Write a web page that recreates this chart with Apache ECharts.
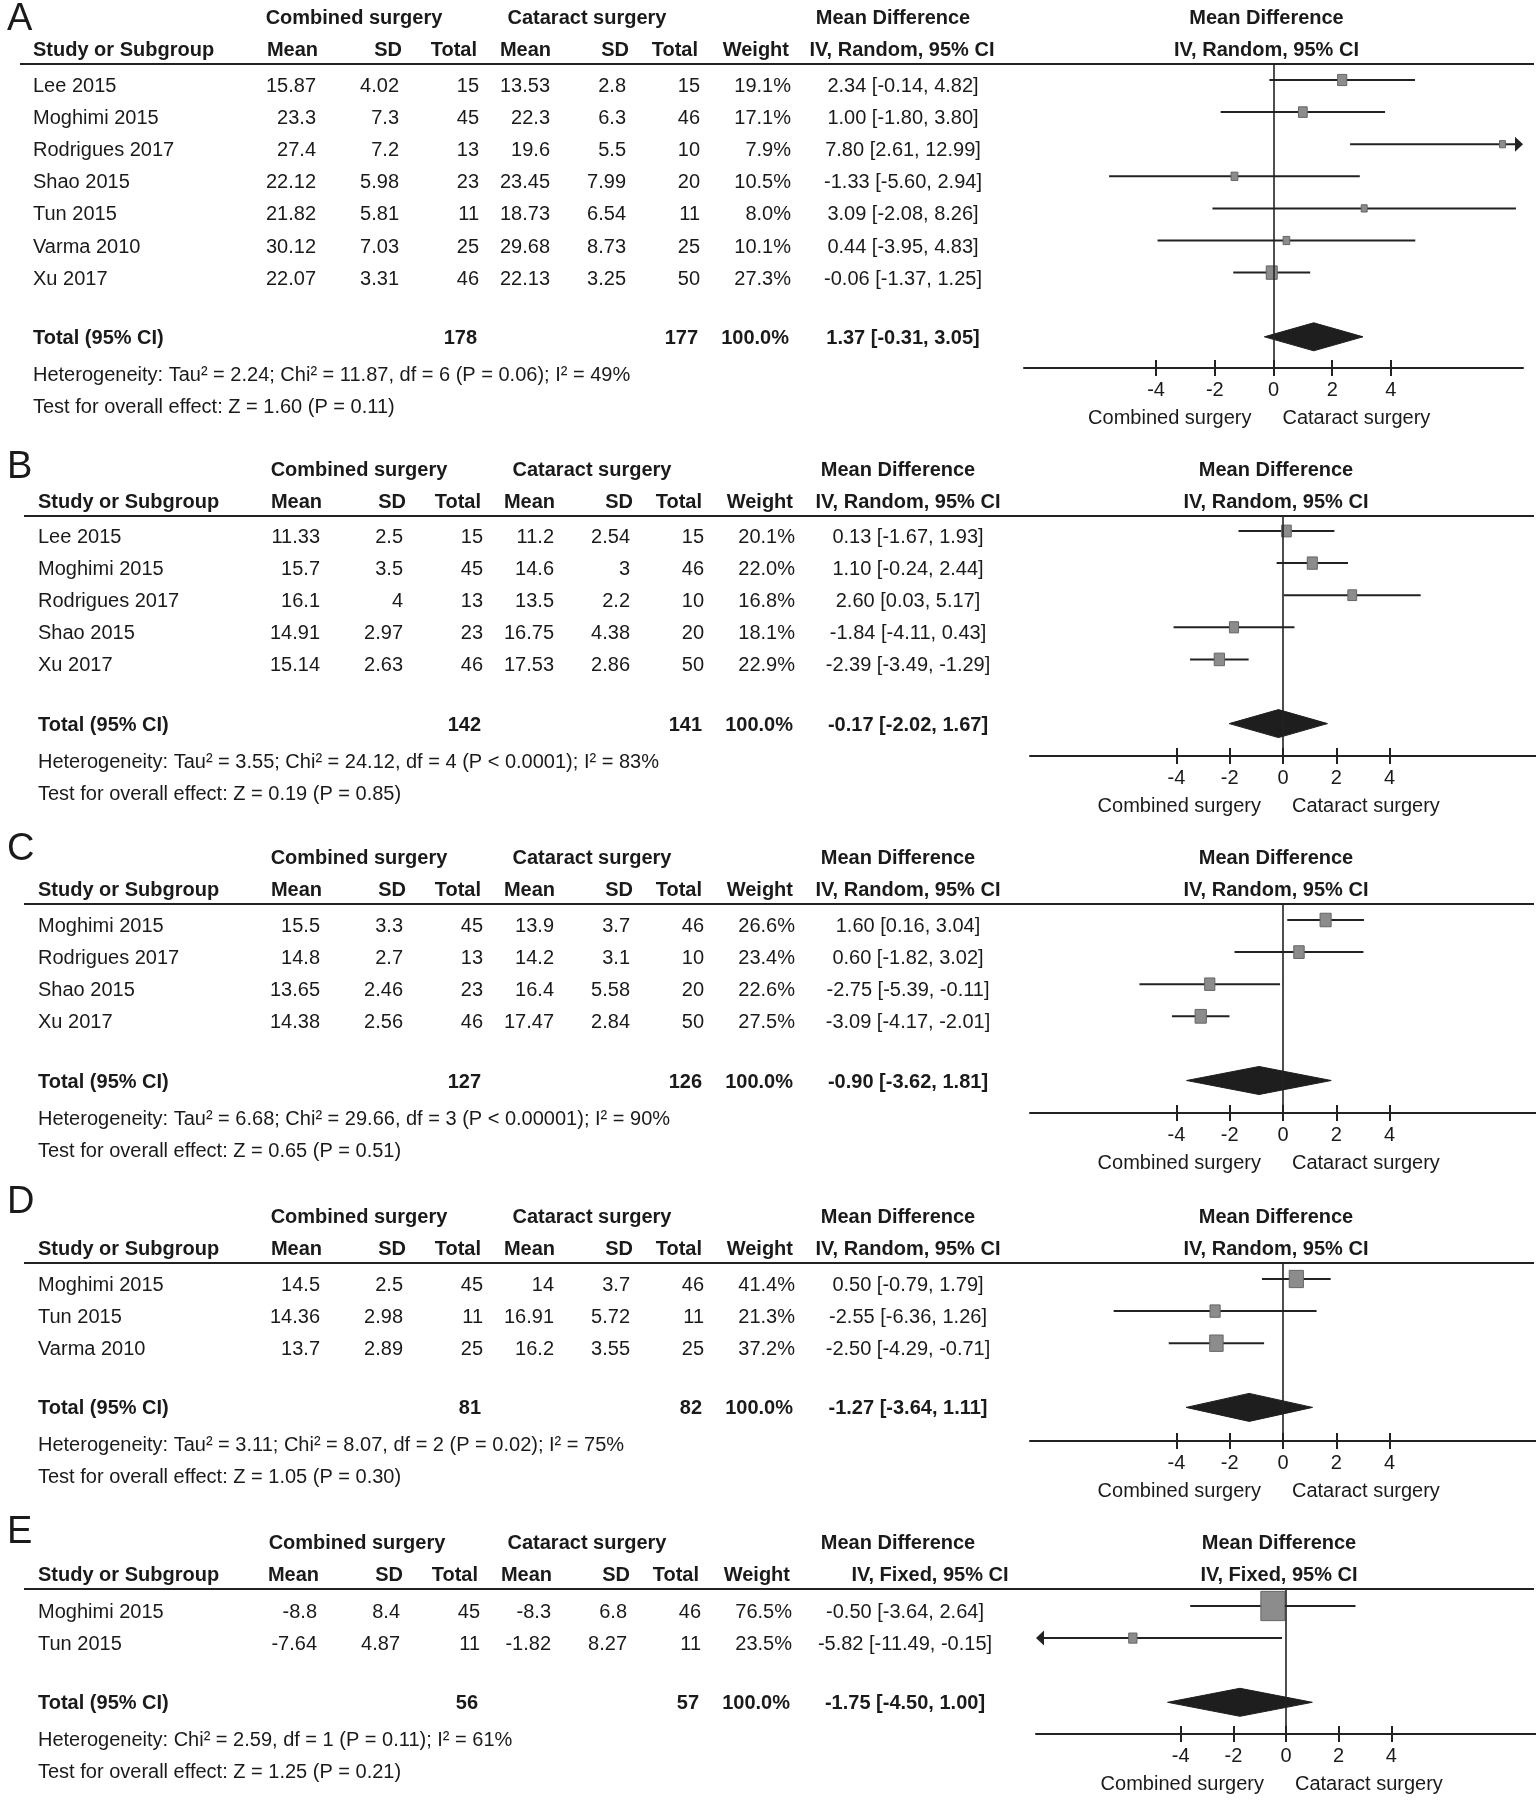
<!DOCTYPE html>
<html><head><meta charset="utf-8">
<script src="https://cdn.jsdelivr.net/npm/echarts@6/dist/echarts.min.js"></script>
<style>html,body{margin:0;padding:0;background:#fff}#c{width:1536px;height:1802px}</style>
</head><body><div id="c"></div>
<script>
// ---------------- DATA ----------------
const colHeaders = ['Study or Subgroup','Mean','SD','Total','Mean','SD','Total','Weight'];
const groupHeaders = ['Combined surgery','Cataract surgery'];
const directionLabels = ['Combined surgery','Cataract surgery'];
const tickLabels = [-4,-2,0,2,4];

// Panel A
const A_study = ['Lee 2015','Moghimi 2015','Rodrigues 2017','Shao 2015','Tun 2015','Varma 2010','Xu 2017'];
const A_combMean = [15.87,23.3,27.4,22.12,21.82,30.12,22.07];
const A_combSD = [4.02,7.3,7.2,5.98,5.81,7.03,3.31];
const A_combN = [15,45,13,23,11,25,46];
const A_catMean = [13.53,22.3,19.6,23.45,18.73,29.68,22.13];
const A_catSD = [2.8,6.3,5.5,7.99,6.54,8.73,3.25];
const A_catN = [15,46,10,20,11,25,50];
const A_weight = [19.1,17.1,7.9,10.5,8.0,10.1,27.3];
const A_md = [2.34,1.00,7.80,-1.33,3.09,0.44,-0.06];
const A_lo = [-0.14,-1.80,2.61,-5.60,-2.08,-3.95,-1.37];
const A_hi = [4.82,3.80,12.99,2.94,8.26,4.83,1.25];
const A_total = [178,177,1.37,-0.31,3.05];
const A_het = 'Heterogeneity: Tau\u00b2 = 2.24; Chi\u00b2 = 11.87, df = 6 (P = 0.06); I\u00b2 = 49%';
const A_test = 'Test for overall effect: Z = 1.60 (P = 0.11)';

// Panel B
const B_study = ['Lee 2015','Moghimi 2015','Rodrigues 2017','Shao 2015','Xu 2017'];
const B_combMean = [11.33,15.7,16.1,14.91,15.14];
const B_combSD = [2.5,3.5,4,2.97,2.63];
const B_combN = [15,45,13,23,46];
const B_catMean = [11.2,14.6,13.5,16.75,17.53];
const B_catSD = [2.54,3,2.2,4.38,2.86];
const B_catN = [15,46,10,20,50];
const B_weight = [20.1,22.0,16.8,18.1,22.9];
const B_md = [0.13,1.10,2.60,-1.84,-2.39];
const B_lo = [-1.67,-0.24,0.03,-4.11,-3.49];
const B_hi = [1.93,2.44,5.17,0.43,-1.29];
const B_total = [142,141,-0.17,-2.02,1.67];
const B_het = 'Heterogeneity: Tau\u00b2 = 3.55; Chi\u00b2 = 24.12, df = 4 (P < 0.0001); I\u00b2 = 83%';
const B_test = 'Test for overall effect: Z = 0.19 (P = 0.85)';

// Panel C
const C_study = ['Moghimi 2015','Rodrigues 2017','Shao 2015','Xu 2017'];
const C_combMean = [15.5,14.8,13.65,14.38];
const C_combSD = [3.3,2.7,2.46,2.56];
const C_combN = [45,13,23,46];
const C_catMean = [13.9,14.2,16.4,17.47];
const C_catSD = [3.7,3.1,5.58,2.84];
const C_catN = [46,10,20,50];
const C_weight = [26.6,23.4,22.6,27.5];
const C_md = [1.60,0.60,-2.75,-3.09];
const C_lo = [0.16,-1.82,-5.39,-4.17];
const C_hi = [3.04,3.02,-0.11,-2.01];
const C_total = [127,126,-0.90,-3.62,1.81];
const C_het = 'Heterogeneity: Tau\u00b2 = 6.68; Chi\u00b2 = 29.66, df = 3 (P < 0.00001); I\u00b2 = 90%';
const C_test = 'Test for overall effect: Z = 0.65 (P = 0.51)';

// Panel D
const D_study = ['Moghimi 2015','Tun 2015','Varma 2010'];
const D_combMean = [14.5,14.36,13.7];
const D_combSD = [2.5,2.98,2.89];
const D_combN = [45,11,25];
const D_catMean = [14,16.91,16.2];
const D_catSD = [3.7,5.72,3.55];
const D_catN = [46,11,25];
const D_weight = [41.4,21.3,37.2];
const D_md = [0.50,-2.55,-2.50];
const D_lo = [-0.79,-6.36,-4.29];
const D_hi = [1.79,1.26,-0.71];
const D_total = [81,82,-1.27,-3.64,1.11];
const D_het = 'Heterogeneity: Tau\u00b2 = 3.11; Chi\u00b2 = 8.07, df = 2 (P = 0.02); I\u00b2 = 75%';
const D_test = 'Test for overall effect: Z = 1.05 (P = 0.30)';

// Panel E
const E_study = ['Moghimi 2015','Tun 2015'];
const E_combMean = [-8.8,-7.64];
const E_combSD = [8.4,4.87];
const E_combN = [45,11];
const E_catMean = [-8.3,-1.82];
const E_catSD = [6.8,8.27];
const E_catN = [46,11];
const E_weight = [76.5,23.5];
const E_md = [-0.50,-5.82];
const E_lo = [-3.64,-11.49];
const E_hi = [2.64,-0.15];
const E_total = [56,57,-1.75,-4.50,1.00];
const E_het = 'Heterogeneity: Chi\u00b2 = 2.59, df = 1 (P = 0.11); I\u00b2 = 61%';
const E_test = 'Test for overall effect: Z = 1.25 (P = 0.21)';

const panels = [
  {letter:'A', study:A_study, cm:A_combMean, cs:A_combSD, cn:A_combN, tm:A_catMean, ts:A_catSD, tn:A_catN, w:A_weight, md:A_md, lo:A_lo, hi:A_hi, total:A_total, het:A_het, test:A_test, method:'IV, Random, 95% CI'},
  {letter:'B', study:B_study, cm:B_combMean, cs:B_combSD, cn:B_combN, tm:B_catMean, ts:B_catSD, tn:B_catN, w:B_weight, md:B_md, lo:B_lo, hi:B_hi, total:B_total, het:B_het, test:B_test, method:'IV, Random, 95% CI'},
  {letter:'C', study:C_study, cm:C_combMean, cs:C_combSD, cn:C_combN, tm:C_catMean, ts:C_catSD, tn:C_catN, w:C_weight, md:C_md, lo:C_lo, hi:C_hi, total:C_total, het:C_het, test:C_test, method:'IV, Random, 95% CI'},
  {letter:'D', study:D_study, cm:D_combMean, cs:D_combSD, cn:D_combN, tm:D_catMean, ts:D_catSD, tn:D_catN, w:D_weight, md:D_md, lo:D_lo, hi:D_hi, total:D_total, het:D_het, test:D_test, method:'IV, Random, 95% CI'},
  {letter:'E', study:E_study, cm:E_combMean, cs:E_combSD, cn:E_combN, tm:E_catMean, ts:E_catSD, tn:E_catN, w:E_weight, md:E_md, lo:E_lo, hi:E_hi, total:E_total, het:E_het, test:E_test, method:'IV, Fixed, 95% CI'}
];

// ---------------- LAYOUT ----------------
const ROW = 32.1;
const layouts = [
  {letterY:20,  top:64,   axisY:368,  row0:80,   xmin:-8.5, xmax:8.5, left:1024, width:499, dx:0, lineLeft:20, studyX:33, sqC:2.1, sqP:0.5, mdHeadX:893, methodX:902, ciX:903, grpX:[354,587]},
  {letterY:468, top:516,  axisY:756,  row0:531,  xmin:-9.5, xmax:9.5, left:1030, width:506, dx:4, lineLeft:24, studyX:38, sqC:2.15, sqP:0.5, mdHeadX:898, methodX:908, ciX:908, grpX:[359,592]},
  {letterY:850, top:904,  axisY:1113, row0:920,  xmin:-9.5, xmax:9.5, left:1030, width:506, dx:4, lineLeft:24, studyX:38, sqC:2.15, sqP:0.5, mdHeadX:898, methodX:908, ciX:908, grpX:[359,592]},
  {letterY:1203,top:1263, axisY:1441, row0:1279, xmin:-9.5, xmax:9.5, left:1030, width:506, dx:4, lineLeft:24, studyX:38, sqC:2.2, sqP:0.5, mdHeadX:898, methodX:908, ciX:908, grpX:[359,592]},
  {letterY:1533,top:1589, axisY:1734, row0:1606, xmin:-9.5, xmax:9.5, left:1036, width:500, dx:1, lineLeft:24, studyX:38, sqC:0.484, sqP:0.9, mdHeadX:898, methodX:930, ciX:905, grpX:[357,587]}
];
const headRight = [318,402,477,551,629,698,789];
const valRight  = [316,399,479,550,626,700,791];
const FONT = '"Liberation Sans", Arial, Helvetica, sans-serif';
const INK = '#1a1a1a';

const chart = echarts.init(document.getElementById('c'), null, {renderer:'canvas'});

function studyRender(L){
  return function(params, api){
    const md = api.value(0), lo = api.value(1), hi = api.value(2), w = api.value(3), r = api.value(4);
    const pL = api.coord([Math.max(lo, L.xmin), r]);
    const pH = api.coord([Math.min(hi, L.xmax), r]);
    const pC = api.coord([md, r]);
    const y = pC[1];
    let x0 = pL[0], x1 = pH[0];
    const arrL = lo < L.xmin, arrR = hi > L.xmax;
    const kids = [];
    if (arrR) x1 -= 8;
    if (arrL) x0 += 8;
    kids.push({type:'line', shape:{x1:x0, y1:y, x2:x1, y2:y}, style:{stroke:'#222', lineWidth:2}});
    if (arrR) kids.push({type:'polygon', shape:{points:[[x1,y-7.5],[pH[0],y],[x1,y+7.5]]}, style:{fill:'#222'}});
    if (arrL) kids.push({type:'polygon', shape:{points:[[x0,y-7.5],[pL[0],y],[x0,y+7.5]]}, style:{fill:'#222'}});
    const sw = L.sqC * Math.pow(w, L.sqP), sh = sw * 1.22;
    kids.push({type:'rect', shape:{x:pC[0]-sw/2, y:y-sh/2, width:sw, height:sh}, style:{fill:'#8c8c8c', stroke:'#666', lineWidth:1}});
    return {type:'group', children:kids};
  };
}
function diamondRender(params, api){
  const md = api.value(0), lo = api.value(1), hi = api.value(2), r = api.value(3);
  const a = api.coord([lo, r]), m = api.coord([md, r]), b = api.coord([hi, r]);
  const y = m[1];
  return {type:'polygon', shape:{points:[[a[0],y],[m[0],y-14],[b[0],y],[m[0],y+14]]}, style:{fill:'#1e1e1e', stroke:'#1e1e1e', lineWidth:1}};
}

const grids = [], xAxes = [], yAxes = [], series = [];
panels.forEach((P, g) => {
  const L = layouts[g];
  const n = P.study.length;
  grids.push({left:L.left, top:L.top, width:L.width, height:L.axisY - L.top, containLabel:false});
  const axBase = {gridIndex:g, type:'value', min:L.xmin, max:L.xmax, position:'bottom', splitLine:{show:false}};
  xAxes.push(Object.assign({}, axBase, {
    axisLine:{show:true, onZero:false, lineStyle:{color:'#222', width:2}},
    axisTick:{show:true, customValues:tickLabels, length:8, inside:false, lineStyle:{color:'#222', width:2}},
    axisLabel:{show:true, customValues:tickLabels, margin:12, fontSize:20, fontFamily:FONT, color:INK}
  }));
  xAxes.push(Object.assign({}, axBase, {
    axisLine:{show:false, onZero:false},
    axisTick:{show:true, customValues:tickLabels, length:8, inside:true, lineStyle:{color:'#222', width:2}},
    axisLabel:{show:false}
  }));
  yAxes.push({gridIndex:g, type:'value', inverse:true, show:false,
    min:(L.top - L.row0)/ROW, max:(L.axisY - L.row0)/ROW});
  const rows = P.study.map((s, i) => [P.md[i], P.lo[i], P.hi[i], P.w[i], i]);
  series.push({type:'custom', xAxisIndex:2*g, yAxisIndex:g, renderItem:studyRender(L), data:rows, silent:true,
    encode:{x:[0,1,2], y:4}, clip:false,
    markLine:{silent:true, symbol:['none','none'], label:{show:false}, animation:false,
      lineStyle:{color:'#222', width:1.6, type:'solid'}, data:[{xAxis:0}]}});
  series.push({type:'custom', xAxisIndex:2*g, yAxisIndex:g, renderItem:diamondRender, silent:true,
    data:[[P.total[2], P.total[3], P.total[4], n + 1]], encode:{x:[0,1,2], y:3}, clip:false});
});

chart.setOption({animation:false, backgroundColor:'#fff', grid:grids, xAxis:xAxes, yAxis:yAxes, series:series});

// ---------------- TABLE TEXT ----------------
function T(text, x, y, align, bold, size){
  return {type:'text', silent:true, style:{text:String(text), x:x, y:y, textAlign:align||'left', align:align||'left',
    textVerticalAlign:'middle', verticalAlign:'middle',
    font:(bold?'bold ':'') + (size||20) + 'px ' + FONT, fill:INK}};
}
const fmtCI = (m, l, h) => m.toFixed(2) + ' [' + l.toFixed(2) + ', ' + h.toFixed(2) + ']';
const G = [];
panels.forEach((P, g) => {
  const L = layouts[g];
  const n = P.study.length;
  const rowPx = i => chart.convertToPixel({yAxisIndex:g}, i);
  const zeroPx = chart.convertToPixel({xAxisIndex:2*g}, 0);
  const hr = headRight.map(v => v + L.dx), vr = valRight.map(v => v + L.dx);
  G.push(T(P.letter, 7, L.letterY, 'left', false, 38));
  const gy = L.top - 46, cy = L.top - 14;
  G.push(T(groupHeaders[0], L.grpX[0], gy, 'center', true));
  G.push(T(groupHeaders[1], L.grpX[1], gy, 'center', true));
  G.push(T('Mean Difference', L.mdHeadX, gy, 'center', true));
  G.push(T('Mean Difference', zeroPx - 7, gy, 'center', true));
  G.push(T(colHeaders[0], L.studyX, cy, 'left', true));
  for (let k = 1; k < 8; k++) G.push(T(colHeaders[k], hr[k-1], cy, 'right', true));
  G.push(T(P.method, L.methodX, cy, 'center', true));
  G.push(T(P.method, zeroPx - 7, cy, 'center', true));
  G.push({type:'line', silent:true, shape:{x1:L.lineLeft, y1:L.top, x2:1534, y2:L.top}, style:{stroke:'#222', lineWidth:2}});
  for (let i = 0; i < n; i++) {
    const y = rowPx(i) + 6.5;
    G.push(T(P.study[i], L.studyX, y, 'left'));
    const vals = [P.cm[i], P.cs[i], P.cn[i], P.tm[i], P.ts[i], P.tn[i], P.w[i].toFixed(1) + '%'];
    vals.forEach((v, k) => G.push(T(v, vr[k], y, 'right')));
    G.push(T(fmtCI(P.md[i], P.lo[i], P.hi[i]), L.ciX, y, 'center'));
  }
  const ty = rowPx(n + 1) + 1.5;
  G.push(T('Total (95% CI)', L.studyX, ty, 'left', true));
  G.push(T(P.total[0], hr[2], ty, 'right', true));
  G.push(T(P.total[1], hr[5], ty, 'right', true));
  G.push(T('100.0%', hr[6], ty, 'right', true));
  G.push(T(fmtCI(P.total[2], P.total[3], P.total[4]), L.ciX, ty, 'center', true));
  G.push(T(P.het, L.studyX, ty + 37, 'left'));
  G.push(T(P.test, L.studyX, ty + 69, 'left'));
  G.push(T(directionLabels[0], zeroPx - 22, L.axisY + 50.5, 'right'));
  G.push(T(directionLabels[1], zeroPx + 9, L.axisY + 50.5, 'left'));
});
chart.setOption({graphic:{elements:G}});
</script>
</body></html>
